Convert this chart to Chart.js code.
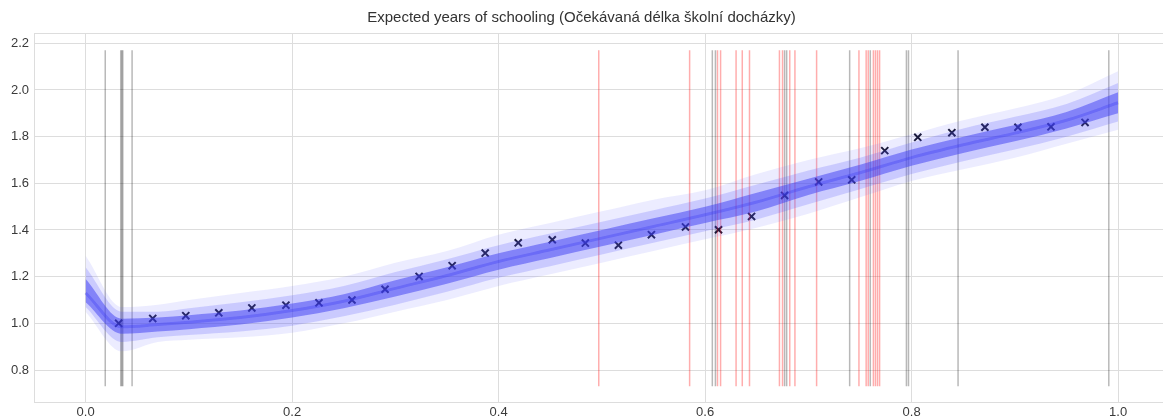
<!DOCTYPE html>
<html>
<head>
<meta charset="utf-8">
<title>Expected years of schooling</title>
<script src="https://cdn.jsdelivr.net/npm/chart.js@4.4.1/dist/chart.umd.min.js"></script>
<style>
    html, body { margin: 0; padding: 0; background: #fff; }
    #chart { display: block; }
</style>
</head>
<body>
<canvas id="chart" width="1163" height="419"></canvas>
<script>
// Observed values (x markers)
const markerX = [0.032, 0.065, 0.097, 0.129, 0.161, 0.194, 0.226, 0.258, 0.290, 0.323,
                 0.355, 0.387, 0.419, 0.452, 0.484, 0.516, 0.548, 0.581, 0.613, 0.645,
                 0.677, 0.710, 0.742, 0.774, 0.806, 0.839, 0.871, 0.903, 0.935, 0.968];
const markerY = [1.000, 1.021, 1.033, 1.045, 1.066, 1.078, 1.088, 1.100, 1.146, 1.201,
                 1.247, 1.301, 1.345, 1.358, 1.344, 1.335, 1.380, 1.413, 1.401, 1.458,
                 1.548, 1.606, 1.615, 1.740, 1.797, 1.817, 1.840, 1.840, 1.842, 1.861];

const bandX   = [0, 0.035, 0.07, 0.1, 0.15, 0.2, 0.25, 0.3, 0.35, 0.4, 0.45, 0.5, 0.55, 0.6, 0.65, 0.7, 0.75, 0.8, 0.85, 0.9, 0.95, 1.0];
const bandMid = [1.13, 0.985, 0.995, 1.005, 1.025, 1.055, 1.095, 1.15, 1.205, 1.265, 1.315, 1.365, 1.415, 1.465, 1.52, 1.585, 1.645, 1.71, 1.765, 1.815, 1.87, 1.945];
const outerHi = [1.29, 1.07, 1.08, 1.10, 1.13, 1.16, 1.20, 1.26, 1.31, 1.38, 1.43, 1.48, 1.53, 1.57, 1.64, 1.70, 1.75, 1.81, 1.87, 1.92, 1.98, 2.08];
const outerLo = [1.05, 0.88, 0.92, 0.93, 0.94, 0.96, 1.00, 1.05, 1.10, 1.16, 1.21, 1.26, 1.31, 1.36, 1.41, 1.47, 1.54, 1.61, 1.66, 1.71, 1.77, 1.83];
const midHi   = [1.24, 1.05, 1.05, 1.065, 1.09, 1.12, 1.16, 1.22, 1.275, 1.335, 1.385, 1.435, 1.485, 1.535, 1.595, 1.655, 1.71, 1.775, 1.835, 1.885, 1.94, 2.03];
const midLo   = [1.07, 0.92, 0.94, 0.95, 0.965, 0.99, 1.03, 1.08, 1.135, 1.195, 1.245, 1.295, 1.345, 1.395, 1.445, 1.51, 1.575, 1.64, 1.695, 1.745, 1.80, 1.865];
const innerHi = [1.19, 1.02, 1.025, 1.035, 1.055, 1.085, 1.125, 1.185, 1.24, 1.30, 1.35, 1.40, 1.45, 1.50, 1.56, 1.62, 1.68, 1.745, 1.80, 1.85, 1.905, 1.99];
const innerLo = [1.09, 0.955, 0.965, 0.975, 0.995, 1.025, 1.065, 1.115, 1.17, 1.23, 1.28, 1.33, 1.38, 1.43, 1.48, 1.55, 1.61, 1.675, 1.73, 1.78, 1.835, 1.90];

// Vertical marker lines
const grayLines = [0.019, 0.034, 0.035, 0.036, 0.045, 0.607, 0.610, 0.677, 0.679, 0.740, 0.760, 0.795, 0.797, 0.845, 0.991];
const redLines  = [0.497, 0.585, 0.612, 0.615, 0.630, 0.636, 0.643, 0.672, 0.675, 0.682, 0.687, 0.708,
                   0.749, 0.756, 0.758, 0.763, 0.765, 0.767, 0.769];
const vlineRange = [0.73, 2.17];

// Axis ticks
const xTicks = [0.0, 0.2, 0.4, 0.6, 0.8, 1.0];
const yTicks = [0.8, 1.0, 1.2, 1.4, 1.6, 1.8, 2.0, 2.2];

const GRID = '#dddddd';
const TICK_FONT = { family: '"Liberation Sans", Arial, sans-serif', size: 13 };

function pts(xs, ys) {
    return xs.map((x, i) => ({ x: x, y: ys[i] }));
}

function bandSet(ys, fill, color) {
    return {
        data: pts(bandX, ys),
        borderWidth: 0,
        borderColor: 'rgba(0,0,0,0)',
        backgroundColor: color,
        pointRadius: 0,
        fill: fill,
        cubicInterpolationMode: 'monotone'
    };
}

function vline(x, color) {
    return {
        data: [{ x: x, y: vlineRange[0] }, { x: x, y: vlineRange[1] }],
        borderColor: color,
        borderWidth: 1.5,
        pointRadius: 0,
        fill: false
    };
}

const datasets = [
    bandSet(outerLo, false, 'rgba(0,0,0,0)'),
    bandSet(outerHi, '-1', 'rgba(100,100,255,0.12)'),
    bandSet(midLo, false, 'rgba(0,0,0,0)'),
    bandSet(midHi, '-1', 'rgba(80,80,250,0.22)'),
    bandSet(innerLo, false, 'rgba(0,0,0,0)'),
    bandSet(innerHi, '-1', 'rgba(50,50,240,0.5)'),
    {
        data: pts(bandX, bandMid),
        borderColor: 'rgba(45,45,230,0.35)',
        borderWidth: 3,
        pointRadius: 0,
        fill: false,
        cubicInterpolationMode: 'monotone'
    }
];
grayLines.forEach(x => datasets.push(vline(x, 'rgba(0,0,0,0.28)')));
redLines.forEach(x => datasets.push(vline(x, 'rgba(255,0,0,0.32)')));
datasets.push({
    type: 'scatter',
    data: pts(markerX, markerY),
    pointStyle: 'crossRot',
    pointRadius: 5,
    borderWidth: 2,
    borderColor: '#111122',
    backgroundColor: '#111122',
    showLine: false
});

// Light frame around the plot area (top edge is not drawn by the axes)
const framePlugin = {
    id: 'frame',
    beforeDatasetsDraw(chart) {
        const a = chart.chartArea;
        const ctx = chart.ctx;
        ctx.save();
        ctx.strokeStyle = GRID;
        ctx.lineWidth = 1;
        ctx.strokeRect(a.left + 0.5, a.top + 0.5, a.right - a.left + 10, a.bottom - a.top);
        ctx.restore();
    }
};

new Chart(document.getElementById('chart'), {
    type: 'line',
    data: { datasets: datasets },
    options: {
        responsive: false,
        animation: false,
        devicePixelRatio: 1,
        layout: { padding: 0, autoPadding: false },
        plugins: {
            legend: { display: false },
            tooltip: { enabled: false },
            title: {
                display: true,
                text: 'Expected years of schooling (Očekávaná délka školní docházky)',
                color: '#333333',
                font: { family: '"Liberation Sans", Arial, sans-serif', size: 15, weight: 'normal' },
                padding: { top: 9, bottom: 6 }
            }
        },
        scales: {
            x: {
                type: 'linear',
                min: -0.05,
                max: 1.0435,
                afterBuildTicks: scale => { scale.ticks = xTicks.map(v => ({ value: v })); },
                afterFit: scale => {
                    scale.height = 17;
                    scale.paddingLeft = 0;
                    scale.paddingRight = 0;
                },
                ticks: {
                    color: '#3a3a3a',
                    font: TICK_FONT,
                    padding: 3,
                    maxRotation: 0,
                    callback: v => Number(v).toFixed(1)
                },
                grid: { color: GRID, drawTicks: false },
                border: { color: GRID }
            },
            y: {
                type: 'linear',
                min: 0.663,
                max: 2.244,
                afterBuildTicks: scale => { scale.ticks = yTicks.map(v => ({ value: v })); },
                afterFit: scale => { scale.width = 34; },
                ticks: {
                    color: '#3a3a3a',
                    font: TICK_FONT,
                    padding: 5,
                    callback: v => Number(v).toFixed(1)
                },
                grid: { color: GRID, drawTicks: false },
                border: { color: GRID }
            }
        }
    },
    plugins: [framePlugin]
});
</script>
</body>
</html>
